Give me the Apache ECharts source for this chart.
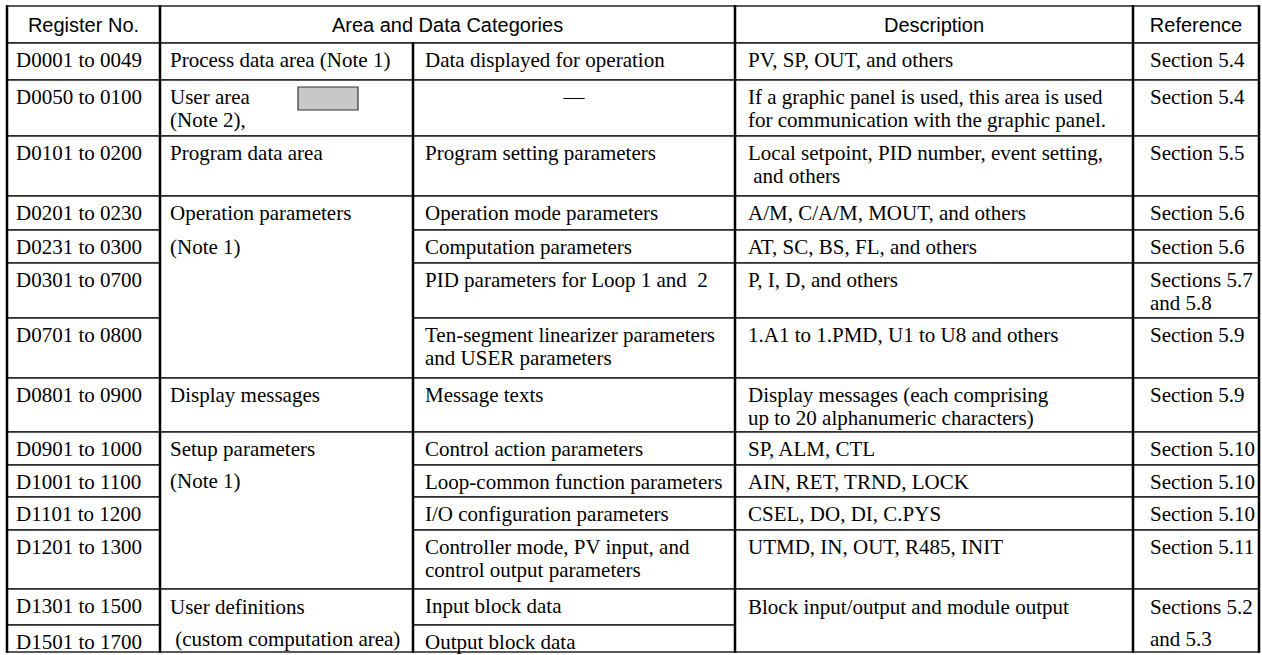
<!DOCTYPE html>
<html><head><meta charset="utf-8">
<script src="https://cdn.jsdelivr.net/npm/echarts@6/dist/echarts.min.js"></script>
<style>html,body{margin:0;padding:0;background:#fff}#c{width:1262px;height:655px}</style>
</head><body><div id="c"></div>
<script>
// ---------------- data ----------------
const headers = ['Register No.', 'Area and Data Categories', 'Description', 'Reference'];
const registerNos = [
  'D0001 to 0049', 'D0050 to 0100', 'D0101 to 0200', 'D0201 to 0230', 'D0231 to 0300',
  'D0301 to 0700', 'D0701 to 0800', 'D0801 to 0900', 'D0901 to 1000', 'D1001 to 1100',
  'D1101 to 1200', 'D1201 to 1300', 'D1301 to 1500', 'D1501 to 1700'
];
// [text, first row, last row]
const areas = [
  ['Process data area (Note 1)', 0, 0],
  ['User area\n(Note 2),', 1, 1],
  ['Program data area', 2, 2],
  ['Operation parameters\n(Note 1)', 3, 6],
  ['Display messages', 7, 7],
  ['Setup parameters\n(Note 1)', 8, 11],
  ['User definitions\n (custom computation area)', 12, 13]
];
const categories = [
  'Data displayed for operation', '\u2014', 'Program setting parameters',
  'Operation mode parameters', 'Computation parameters', 'PID parameters for Loop 1 and  2',
  'Ten-segment linearizer parameters\nand USER parameters', 'Message texts',
  'Control action parameters', 'Loop-common function parameters', 'I/O configuration parameters',
  'Controller mode, PV input, and\ncontrol output parameters', 'Input block data', 'Output block data'
];
const descriptions = [
  ['PV, SP, OUT, and others', 0, 0],
  ['If a graphic panel is used, this area is used\nfor communication with the graphic panel.', 1, 1],
  ['Local setpoint, PID number, event setting,\n and others', 2, 2],
  ['A/M, C/A/M, MOUT, and others', 3, 3],
  ['AT, SC, BS, FL, and others', 4, 4],
  ['P, I, D, and others', 5, 5],
  ['1.A1 to 1.PMD, U1 to U8 and others', 6, 6],
  ['Display messages (each comprising\nup to 20 alphanumeric characters)', 7, 7],
  ['SP, ALM, CTL', 8, 8],
  ['AIN, RET, TRND, LOCK', 9, 9],
  ['CSEL, DO, DI, C.PYS', 10, 10],
  ['UTMD, IN, OUT, R485, INIT', 11, 11],
  ['Block input/output and module output', 12, 13]
];
const references = [
  ['Section 5.4', 0, 0], ['Section 5.4', 1, 1], ['Section 5.5', 2, 2],
  ['Section 5.6', 3, 3], ['Section 5.6', 4, 4], ['Sections 5.7\nand 5.8', 5, 5],
  ['Section 5.9', 6, 6], ['Section 5.9', 7, 7], ['Section 5.10', 8, 8],
  ['Section 5.10', 9, 9], ['Section 5.10', 10, 10], ['Section 5.11', 11, 11],
  ['Sections 5.2\nand 5.3', 12, 13]
];

// ---------------- layout (positions / sizes / styles) ----------------
const W = 1262, H = 655;
const colEdges = [7, 160, 413, 735, 1133, 1259];
const rowEdges = [6, 43, 80, 136, 196, 230, 263, 318, 378, 432, 465, 497, 530, 589, 625, 652];
const padLeft = [9, 10, 12, 13, 17];
const firstLineOffset = 17;   // centre of first text line below the cell top
const lineStep = 23;          // line spacing inside one row
const noteBox = { dx: 138, dy: 7, w: 60, h: 23 };
const bodyFont = '"Liberation Serif","Times New Roman",serif';
const headFont = '"Liberation Sans",Arial,sans-serif';

// ---------------- build cells ----------------
// cell: [col0, col1, row0, row1, text, kind]   rows index into rowEdges (header = 0)
const cells = [];
cells.push([0, 1, 0, 1, headers[0], 'head']);
cells.push([1, 3, 0, 1, headers[1], 'head']);
cells.push([3, 4, 0, 1, headers[2], 'head']);
cells.push([4, 5, 0, 1, headers[3], 'head']);
registerNos.forEach((t, i) => cells.push([0, 1, i + 1, i + 2, t, 'body']));
areas.forEach(a => cells.push([1, 2, a[1] + 1, a[2] + 2, a[0], 'body']));
categories.forEach((t, i) => cells.push([2, 3, i + 1, i + 2, t, t === '\u2014' ? 'center' : 'body']));
descriptions.forEach(a => cells.push([3, 4, a[1] + 1, a[2] + 2, a[0], 'body']));
references.forEach(a => cells.push([4, 5, a[1] + 1, a[2] + 2, a[0], 'body']));

// thick vertical rules: [col edge index, from row edge, to row edge]
const vRules = [[0, 0, 15], [1, 0, 15], [2, 1, 15], [3, 0, 15], [4, 0, 15], [5, 0, 15]];

function renderCell(params, api) {
  const c = cells[api.value(0)];
  const p0 = api.coord([colEdges[c[0]], rowEdges[c[2]]]);
  const p1 = api.coord([colEdges[c[1]], rowEdges[c[3]]]);
  const children = [{
    type: 'rect',
    shape: { x: p0[0], y: p0[1], width: p1[0] - p0[0], height: p1[1] - p0[1] },
    style: { fill: '#fff', stroke: '#222', lineWidth: 1.5 }
  }];
  const lines = c[4].split('\n');
  const multiRow = c[3] - c[2] > 1;
  lines.forEach((ln, i) => {
    let x, y, align = 'left';
    if (c[5] === 'head') {
      x = (p0[0] + p1[0]) / 2; y = (p0[1] + p1[1]) / 2; align = 'center';
    } else {
      if (c[5] === 'center') { x = (p0[0] + p1[0]) / 2; align = 'center'; }
      else x = p0[0] + padLeft[c[0]];
      if (multiRow) {
        const r = c[2] + i;
        const a = api.coord([0, rowEdges[r]])[1], b = api.coord([0, rowEdges[r + 1]])[1];
        y = (a + b) / 2;
      } else {
        y = p0[1] + firstLineOffset + i * lineStep;
      }
    }
    children.push({
      type: 'text',
      style: {
        x: x, y: y, text: ln, align: align, verticalAlign: 'middle', fill: '#000',
        fontSize: c[5] === 'head' ? 20 : 21,
        fontFamily: c[5] === 'head' ? headFont : bodyFont
      }
    });
  });
  // grey note box in the "User area" cell
  if (c[0] === 1 && c[4].indexOf('User area') === 0) {
    children.push({
      type: 'rect',
      shape: { x: p0[0] + noteBox.dx, y: p0[1] + noteBox.dy, width: noteBox.w, height: noteBox.h },
      style: { fill: '#c8c8c8', stroke: '#333', lineWidth: 1.2 }
    });
  }
  return { type: 'group', children: children };
}

function renderRule(params, api) {
  const r = vRules[api.value(0)];
  const a = api.coord([colEdges[r[0]], rowEdges[r[1]]]);
  const b = api.coord([colEdges[r[0]], rowEdges[r[2]]]);
  return {
    type: 'line',
    shape: { x1: a[0], y1: a[1] - 0.75, x2: b[0], y2: b[1] + 0.75 },
    style: { stroke: '#000', lineWidth: 2.5 }
  };
}

const chart = echarts.init(document.getElementById('c'), null, { renderer: 'svg' });
chart.setOption({
  animation: false,
  backgroundColor: '#fff',
  grid: { left: 0, right: 0, top: 0, bottom: 0 },
  xAxis: { type: 'value', min: 0, max: W, show: false },
  yAxis: { type: 'value', min: 0, max: H, inverse: true, show: false },
  series: [
    { type: 'custom', renderItem: renderCell, data: cells.map((c, i) => [i]), silent: true, clip: false },
    { type: 'custom', renderItem: renderRule, data: vRules.map((r, i) => [i]), silent: true, clip: false }
  ]
});
</script>
</body></html>
